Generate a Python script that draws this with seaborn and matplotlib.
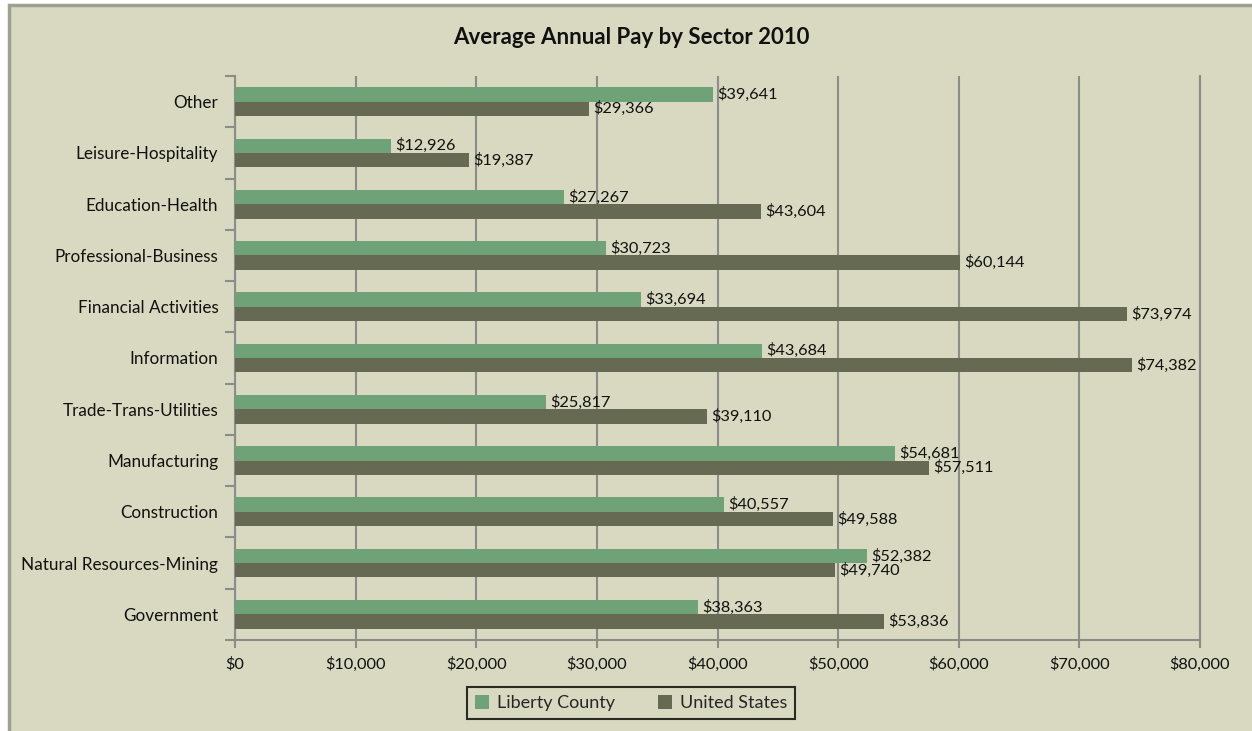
import matplotlib
matplotlib.use("Agg")
import matplotlib.pyplot as plt
from matplotlib.patches import Rectangle
from matplotlib.ticker import FuncFormatter, FixedLocator
import seaborn as sns
import pandas as pd
import numpy as np

sectors = ["Other", "Leisure-Hospitality", "Education-Health", "Professional-Business",
           "Financial Activities", "Information", "Trade-Trans-Utilities", "Manufacturing",
           "Construction", "Natural Resources-Mining", "Government"]
liberty_county = [39641, 12926, 27267, 30723, 33694, 43684, 25817, 54681, 40557, 52382, 38363]
united_states = [29366, 19387, 43604, 60144, 73974, 74382, 39110, 57511, 49588, 49740, 53836]
series_names = ["Liberty County", "United States"]
series_colors = ["#6FA276", "#666A52"]

df = pd.DataFrame({
    "Sector": sectors * 2,
    "Pay": liberty_county + united_states,
    "Series": [series_names[0]] * len(sectors) + [series_names[1]] * len(sectors),
})

sns.set_theme(style="white")
plt.rcParams["font.family"] = ["Lato", "DejaVu Sans"]

bg = "#D8D9C0"
fig = plt.figure(figsize=(12.52, 7.31), dpi=100, facecolor="white")
fig.patches.append(Rectangle((9 / 1252, -0.01), 1.02, 1 - 5 / 731 + 0.01, transform=fig.transFigure,
                             facecolor=bg, edgecolor="#A0A090", linewidth=2.5, zorder=-10))
ax = fig.add_axes([235 / 1252, 1 - 640 / 731, (1200 - 235) / 1252, (640 - 76) / 731])
ax.set_facecolor(bg)

sns.barplot(data=df, x="Pay", y="Sector", hue="Series", order=sectors, hue_order=series_names,
            palette=series_colors, orient="h", width=0.56, saturation=1, ax=ax, zorder=3,
            edgecolor="none", legend=True)

for container in ax.containers:
    ax.bar_label(container, labels=[f"${v:,.0f}" for v in container.datavalues],
                 padding=3, fontsize=11.8, color="#111111")

ax.set_xlim(0, 80000)
ax.set_ylim(len(sectors) - 0.5, -0.5)
ax.xaxis.set_major_locator(FixedLocator(np.arange(0, 80001, 10000)))
ax.xaxis.set_major_formatter(FuncFormatter(lambda v, p: f"${v:,.0f}"))
ax.grid(axis="x", color="#8C8C8C", linewidth=1.5, zorder=0)
ax.set_axisbelow(True)

ax.set_yticks(range(len(sectors)))
ax.set_yticklabels(sectors)
ax.yaxis.set_minor_locator(FixedLocator(np.arange(-0.5, len(sectors), 1)))
ax.tick_params(axis="y", which="major", length=0, pad=12, labelsize=12.3, labelcolor="#111111")
ax.tick_params(axis="y", which="minor", left=True, length=7, width=1.5, color="#8C8C8C")
ax.tick_params(axis="x", which="major", bottom=True, length=6, width=1.5, color="#8C8C8C",
               pad=6, labelsize=11.8, labelcolor="#111111")
ax.set_xlabel("")
ax.set_ylabel("")

ax.spines["top"].set_visible(False)
for side in ["left", "bottom", "right"]:
    ax.spines[side].set_color("#8C8C8C")
    ax.spines[side].set_linewidth(1.5)

fig.text(631 / 1252, 1 - 37 / 731, "Average Annual Pay by Sector 2010", ha="center", va="center",
         fontsize=16, fontweight="bold", color="#111111")

handles, labels = ax.get_legend_handles_labels()
ax.legend_.remove()
leg = fig.legend(handles, labels, loc="center", bbox_to_anchor=(631 / 1252, 1 - 703 / 731), ncol=2,
                 frameon=True, fancybox=False, edgecolor="black", facecolor=bg, fontsize=13,
                 handlelength=0.8, handleheight=0.8, handletextpad=0.4, columnspacing=2.4,
                 borderpad=0.45, borderaxespad=0)
leg.get_frame().set_linewidth(1.5)

fig.savefig("out.png", dpi=100, facecolor=fig.get_facecolor())
